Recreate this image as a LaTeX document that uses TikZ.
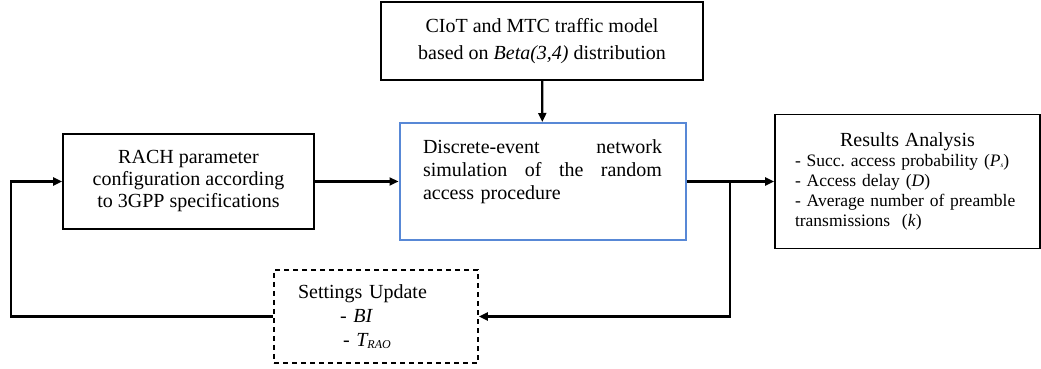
\documentclass[tikz,border=0pt]{standalone}
\usepackage{fontspec}
\setmainfont{Liberation Serif}
\usetikzlibrary{arrows.meta}
\definecolor{boxblue}{RGB}{88,136,214}
\tikzset{
  box/.style={draw=black, line width=1.7pt, rectangle, inner sep=0pt},
  arr/.style={line width=2.2pt, -{Triangle[length=9pt,width=8pt]}},
}
\begin{document}
\begin{tikzpicture}[x=1pt,y=1pt]
\useasboundingbox (0,0) rectangle (1041,369);
% top box
\node[box, minimum width=322pt, minimum height=78pt, align=center,
      font=\fontsize{20}{27}\selectfont] (top) at (542,328)
  {CIoT and MTC traffic model\\ based on \textit{Beta(3,4)} distribution};
% RACH box
\node[box, minimum width=251pt, minimum height=95pt, align=center,
      font=\fontsize{20}{22}\selectfont] (rach) at (188.5,187.5)
  {RACH parameter\\ configuration according\\ to 3GPP specifications};
% simulation box
\node[box, draw=boxblue, line width=2pt, minimum width=286pt, minimum height=117pt,
      text width=239pt, align=left,
      font=\fontsize{20}{23}\selectfont] (sim) at (542.5,187.5)
  {Discrete-event\hfill network\\ simulation\hfill of\hfill the\hfill random\\ access procedure\\ \mbox{}};
% results box
\node[box, minimum width=265pt, minimum height=134pt,
      text width=225pt, align=left,
      font=\fontsize{17.5}{20}\selectfont] (res) at (907.5,187.5)
  {\makebox[\linewidth]{\fontsize{20}{20}\selectfont Results Analysis}\\
   - Succ.\ access probability (\textit{P\raisebox{-1pt}{\scriptsize s}})\\
   - Access delay (\textit{D})\\
   - Average number of preamble\\
   transmissions\ \ (\textit{k})};
% settings box
\node[box, dashed, dash pattern=on 5pt off 4pt, minimum width=204pt, minimum height=93pt,
      text width=156pt, align=left,
      font=\fontsize{20}{24}\selectfont] (set) at (376,52.5)
  {Settings Update\\
   \hspace*{42pt}- \textit{BI}\\
   \hspace*{45pt}- \textit{T\raisebox{-1.5pt}{\fontsize{12}{12}\selectfont RAO}}};
% connectors
\draw[arr] (top) -- (sim);
\draw[arr] (rach.east) -- (rach.east -| sim.west);
\draw[arr] (sim.east) -- (sim.east -| res.west);
\coordinate (br) at (730,187.5);
\draw[arr] (br) |- (set.east);
\coordinate (lp) at (11,52.5);
\draw[arr] (set.west) -- (lp) |- (rach.west);
\end{tikzpicture}
\end{document}
